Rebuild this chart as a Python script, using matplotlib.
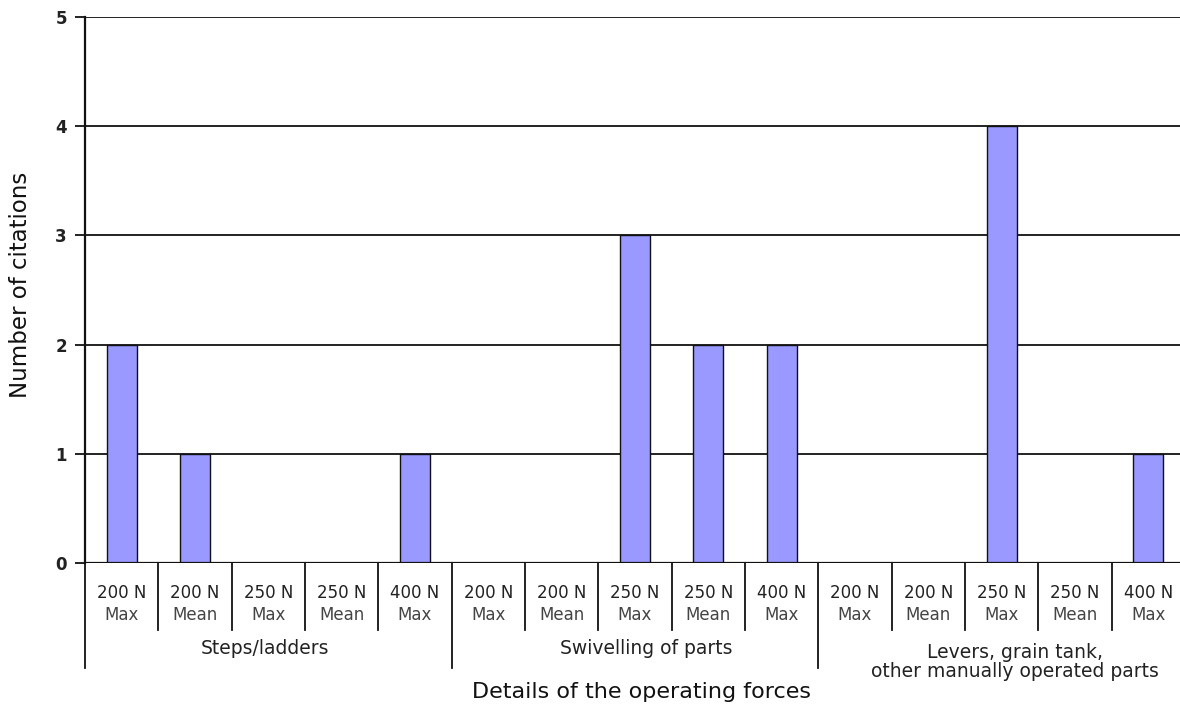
import matplotlib
matplotlib.use("Agg")
import matplotlib.pyplot as plt
import matplotlib.transforms as mtransforms

# ---------- Data ----------
forces = ["200 N", "200 N", "250 N", "250 N", "400 N"]
stats = ["Max", "Mean", "Max", "Mean", "Max"]
groups = ["Steps/ladders", "Swivelling of parts",
          "Levers, grain tank,\nother manually operated parts"]
citations = [2, 1, 0, 0, 1,
             0, 0, 3, 2, 2,
             0, 0, 4, 0, 1]

n_per_group = len(forces)
n = len(citations)
x = list(range(n))

# ---------- Figure ----------
fig = plt.figure(figsize=(11.8, 7.07), dpi=100)
W, H = 1180, 707
left, right, top, bottom = 85, 1185, 17, 563
ax = fig.add_axes([left / W, 1 - bottom / H, (right - left) / W, (bottom - top) / H])

ax.bar(x, citations, width=0.41, color="#9999FF", edgecolor="#111111",
       linewidth=1.0, zorder=3)

ax.set_xlim(-0.5, n - 0.5)
ax.set_ylim(0, 5)
ax.set_yticks(range(6))
ax.set_yticklabels([str(v) for v in range(6)], fontsize=12, fontweight="bold",
                   color="#222222")
ax.yaxis.grid(True, color="#111111", linewidth=1.3, zorder=0)
ax.set_axisbelow(True)
ax.tick_params(axis="y", length=7, width=1.3, color="#111111", pad=6)
ax.set_xticks([])

for side in ["top", "right", "bottom"]:
    ax.spines[side].set_visible(False)
ax.spines["left"].set_linewidth(1.6)
ax.spines["left"].set_color("#111111")
ax.axhline(0, color="#111111", linewidth=1.6, zorder=4)

# ---------- Category axis (multi-level) ----------
trans = mtransforms.blended_transform_factory(ax.transData, ax.transAxes)
ah = bottom - top


def ypix(py):
    # pixel row in the figure -> axes fraction
    return -(py - bottom) / ah


for i in range(n + 1):
    xs = i - 0.5
    y_end = ypix(668) if i % n_per_group == 0 else ypix(630)
    ax.plot([xs, xs], [0, y_end], transform=trans, color="#111111",
            linewidth=1.3, clip_on=False)

for i in range(n):
    ax.text(i, ypix(593), forces[i % n_per_group], transform=trans,
            ha="center", va="center", fontsize=12, color="#222222")
    ax.text(i, ypix(615), stats[i % n_per_group], transform=trans,
            ha="center", va="center", fontsize=12, color="#444444")

grp_shift = [-0.05, 0.15, 0.18]
grp_y = [648, 648, 662]
for g, name in enumerate(groups):
    cx = g * n_per_group + (n_per_group - 1) / 2 + grp_shift[g]
    ax.text(cx, ypix(grp_y[g]), name, transform=trans, ha="center",
            va="center", fontsize=13.5, color="#222222", linespacing=1.05)

fig.text(641 / W, 1 - 692 / H, "Details of the operating forces",
         ha="center", va="center", fontsize=16, color="#111111")

fig.text(21 / W, 1 - 285 / H, "Number of citations", rotation=90,
         ha="center", va="center", fontsize=16.5, color="#111111")

fig.savefig("out.png", dpi=100, facecolor="white")
